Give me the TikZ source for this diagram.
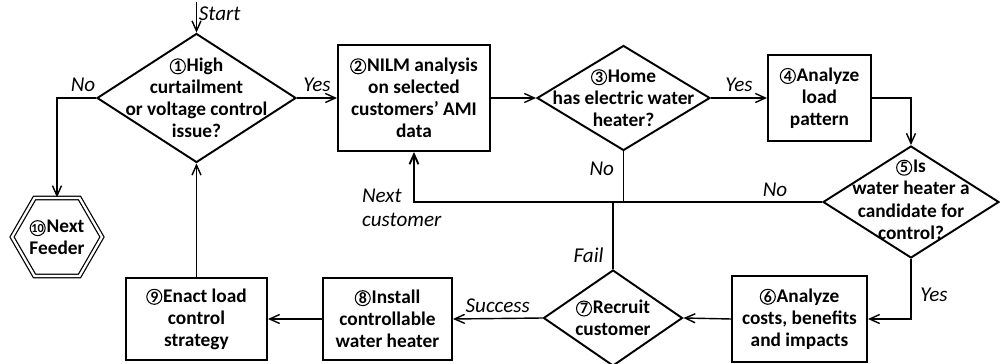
\documentclass[tikz,border=0pt]{standalone}
\usepackage{fontspec}
\setmainfont{Carlito}
\usetikzlibrary{shapes.geometric,arrows.meta,positioning,calc}

\newcommand{\cnum}[2][9]{\tikz[baseline=(cn.base)]\node[circle,draw,line width=0.6pt,minimum size=3mm,inner sep=0pt,font=\fontsize{#1}{#1}\selectfont\bfseries] (cn) {#2};\hspace{0.5pt}}

\begin{document}
\begin{tikzpicture}[
    box/.style={draw,line width=1.1pt,align=center,inner sep=2pt},
    decision/.style={draw,diamond,line width=1.1pt,inner sep=0pt},
    hexa/.style={draw,regular polygon,regular polygon sides=6,double,double distance=1.3pt,line width=0.7pt,minimum size=1.8cm,inner sep=0pt},
    txt/.style={align=center,font=\fontsize{11}{12.6}\selectfont\bfseries},
    lbl/.style={font=\fontsize{12}{13.5}\selectfont\itshape,inner sep=1pt},
    flow/.style={->,line width=0.8pt},
    loop/.style={->,line width=1.1pt},
    >={Straight Barb[length=2mm,width=1.8mm]},
]
    \useasboundingbox (0,0) rectangle (20,-7.28);

    % top row
    \node[decision,minimum width=3.98cm,minimum height=2.58cm] (q1) at (3.93,-1.96) {};
    \node[txt] (q1t) at (q1) {\cnum{1}High\\curtailment\\or voltage control\\issue?};
    \node[box,txt,minimum width=3.04cm,minimum height=2.12cm] (n2) at (8.28,-1.96) {\cnum{2}NILM analysis\\on selected\\customers’ AMI\\data};
    \node[decision,minimum width=3.46cm,minimum height=2.1cm] (q3) at (12.47,-1.96) {};
    \node[txt] (q3t) at (q3) {\cnum{3}Home\\has electric water\\heater?};
    \node[box,txt,minimum width=2.06cm,minimum height=1.72cm] (n4) at (16.39,-1.96) {\cnum{4}Analyze\\load\\pattern};
    \node[decision,minimum width=3.52cm,minimum height=2.24cm] (q5) at (18.22,-4.04) {};
    \node[txt] (q5t) at ($(q5)+(0,0.05)$) {\cnum{5}Is\\water heater a\\candidate for\\control?};

    % bottom row
    \node[box,txt,minimum width=2.7cm,minimum height=1.72cm] (n6) at (15.99,-6.38) {\cnum{6}Analyze\\costs, benefits\\and impacts};
    \node[decision,minimum width=2.78cm,minimum height=1.92cm] (q7) at (12.26,-6.36) {};
    \node[txt] (q7t) at (q7) {\cnum{7}Recruit\\customer};
    \node[box,txt,minimum width=2.58cm,minimum height=1.64cm] (n8) at (7.75,-6.38) {\cnum{8}Install\\controllable\\water heater};
    \node[box,txt,minimum width=2.82cm,minimum height=1.64cm] (n9) at (3.93,-6.38) {\cnum{9}Enact load\\control\\strategy};
    \node[hexa] (n10) at (1.14,-4.74) {};
    \node[txt] (n10t) at (n10) {\cnum[7]{10}Next\\Feeder};

    % connectors
    \coordinate (start) at (3.93,-0.04);
    \draw[flow] (start) -- (q1.north) node[lbl,pos=0.4,right] (lstart) {Start};
    \draw[flow] (q1.east) -- (n2.west) node[lbl,midway,above=2pt] (lyes1) {Yes};
    \draw[flow] (q1.west) -| (n10.north);
    \node[lbl] (lno1) at (1.66,-1.7) {No};
    \draw[flow] (n2.east) -- (q3.west);
    \draw[flow] (q3.east) -- (n4.west) node[lbl,midway,above=2pt] (lyes3) {Yes};
    \draw[flow] (n4.east) -| (q5.north);
    \coordinate (jno) at (q3.south |- q5.west);
    \coordinate (jfail) at (q7.north |- q5.west);
    \draw[loop] (q5.west) -- (q5.west -| n2.south) -- (n2.south);
    \node[lbl] (lno5) at (15.5,-3.8) {No};
    \node[lbl,align=left,anchor=north west] (lnext) at (7.2,-3.74) {Next\\customer};
    \draw[line width=0.8pt] (q3.south) -- (jno) node[lbl,pos=0.35,left=4pt] (lno3) {No};
    \draw[line width=0.8pt] (q7.north) -- (jfail) node[lbl,pos=0.2,left=4pt] (lfail) {Fail};
    \draw[flow] (q5.south) |- (n6.east) node[lbl,pos=0.3,right=4pt] (lyes5) {Yes};
    \draw[flow] (n6.west) -- (q7.east);
    \draw[flow] (q7.west) -- (n8.east) node[lbl,midway,above=2pt] (lsucc) {Success};
    \draw[flow] (n8.west) -- (n9.east);
    \draw[flow] (n9.north) -- (q1.south);
\end{tikzpicture}
\end{document}
